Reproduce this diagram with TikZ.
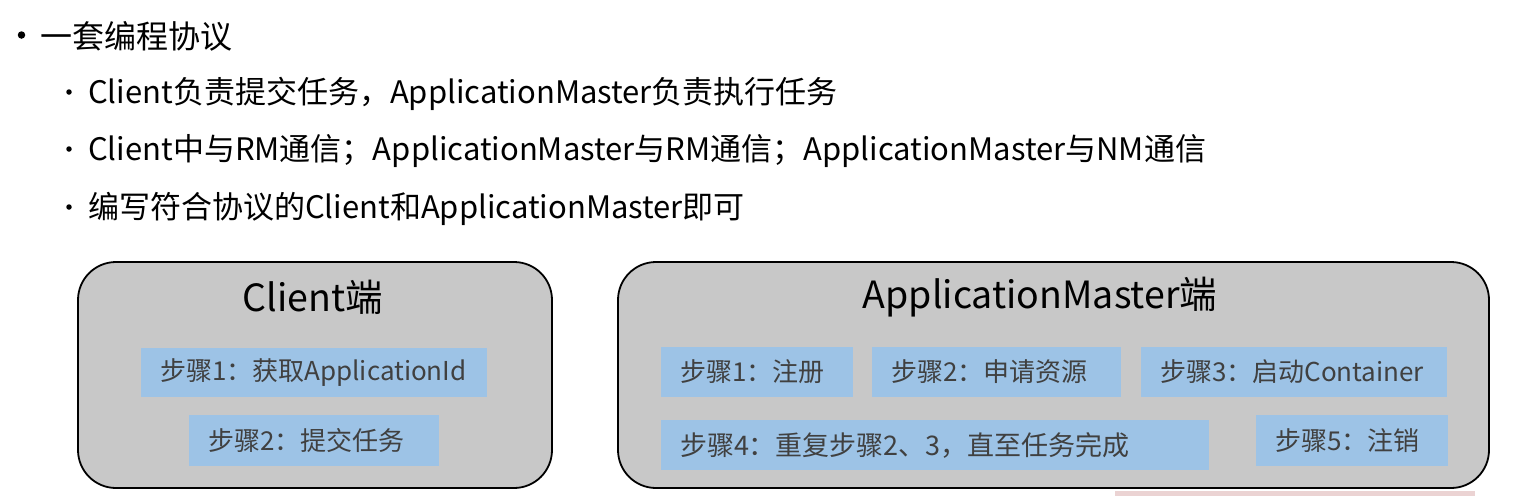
\documentclass[tikz,border=0pt]{standalone}
\usepackage{fontspec}
\setmainfont{Noto Sans CJK SC}
\begin{document}
\begin{tikzpicture}[x=1pt,y=-1pt,
  panel/.style={draw=black,line width=1.8pt,fill=panelgray,rounded corners=38pt},
  stepbox/.style={fill=stepblue,inner sep=0pt},
  steptxt/.style={anchor=west,inner sep=0pt,text=steptext,font=\fontsize{26}{30}\selectfont},
  ptitle/.style={font=\fontsize{37.5}{44}\selectfont,text=black},
  bl/.style={anchor=west,inner sep=0pt,text=black},
  bigdot/.style={circle,fill=black,inner sep=0pt,minimum size=7.5pt},
  smalldot/.style={circle,fill=black,inner sep=0pt,minimum size=5.5pt}]
\definecolor{panelgray}{HTML}{C8C8C8}
\definecolor{stepblue}{HTML}{9DC3E6}
\definecolor{steptext}{HTML}{404040}
\path[use as bounding box] (0,0) rectangle (1520,496);
\fill[white] (0,0) rectangle (1520,496);
% bullets
\node[bigdot] (hb) at (21.5,35) {};
\node[bl,font=\fontsize{32}{38}\selectfont] (h) at (40,36) {一套编程协议};
\node[smalldot] (b1) at (69,92) {};
\node[bl,font=\fontsize{31}{36}\selectfont] (l1) at (88,94) {Client负责提交任务，ApplicationMaster负责执行任务};
\node[smalldot] (b2) at (69,149) {};
\node[bl,font=\fontsize{31}{36}\selectfont] (l2) at (88,151) {Client中与RM通信；ApplicationMaster与RM通信；ApplicationMaster与NM通信};
\node[smalldot] (b3) at (69,207) {};
\node[bl,font=\fontsize{31}{36}\selectfont] (l3) at (88,209) {编写符合协议的Client和ApplicationMaster即可};
% panels
\draw[panel] (78,262) rectangle (552,488);
\node[ptitle] (ct) at (313,297) {Client端};
\draw[panel] (618,262) rectangle (1489,488);
\node[ptitle] (at) at (1040,297) {ApplicationMaster端};
% client steps
\node[stepbox,minimum width=346pt,minimum height=49pt] (c1) at (314,372.5) {};
\node[steptxt] (c1t) at ([xshift=19pt]c1.west) {步骤1：获取ApplicationId};
\node[stepbox,minimum width=250pt,minimum height=51pt] (c2) at (314,440.5) {};
\node[steptxt] (c2t) at ([xshift=19pt]c2.west) {步骤2：提交任务};
% AM steps
\node[stepbox,minimum width=192pt,minimum height=50pt] (a1) at (757,372) {};
\node[steptxt] (a1t) at ([xshift=19pt]a1.west) {步骤1：注册};
\node[stepbox,minimum width=249pt,minimum height=50pt] (a2) at (996.5,372) {};
\node[steptxt] (a2t) at ([xshift=19pt]a2.west) {步骤2：申请资源};
\node[stepbox,minimum width=306pt,minimum height=50pt] (a3) at (1294,372) {};
\node[steptxt] (a3t) at ([xshift=19pt]a3.west) {步骤3：启动Container};
\node[stepbox,minimum width=548pt,minimum height=50pt] (a4) at (935,445) {};
\node[steptxt,font=\fontsize{27}{31}\selectfont] (a4t) at ([xshift=19pt]a4.west) {步骤4：重复步骤2、3，直至任务完成};
\node[stepbox,minimum width=192pt,minimum height=51pt] (a5) at (1352,440.5) {};
\node[steptxt] (a5t) at ([xshift=19pt]a5.west) {步骤5：注销};
% faint strip at bottom
\fill[red!10!white!92!black] (1115,491) rectangle (1475,496);
\end{tikzpicture}
\end{document}
